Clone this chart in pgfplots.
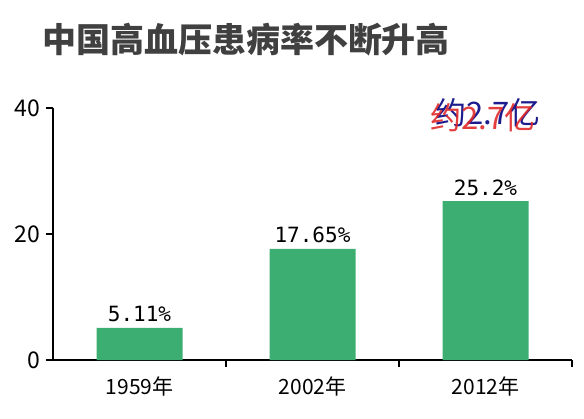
\documentclass[border=0pt]{standalone}
\usepackage{pgfplots}
\pgfplotsset{compat=1.18}
\usepackage{fontspec}
\setmainfont{Noto Sans CJK SC}
\newfontfamily\monofont{DejaVu Sans Mono}
\definecolor{bargreen}{HTML}{3DAE72}
\definecolor{annblue}{HTML}{1C1C8E}
\definecolor{annred}{HTML}{E02828}
\begin{document}
\begin{tikzpicture}[x=1pt,y=1pt]
\path[use as bounding box] (0,0) rectangle (584,418);
\node[font=\fontsize{34}{36}\selectfont\bfseries, text=black!75] at (246,378) {中国高血压患病率不断升高};
\begin{axis}[
  at={(53pt,58pt)}, anchor=south west, scale only axis,
  width=519pt, height=252pt,
  xmin=0, xmax=3, ymin=0, ymax=40,
  axis lines*=left,
  axis line style={line width=1.3pt, -},
  /pgf/number format/assume math mode=true,
  ytick={0,20,40},
  xtick={0.5,1.5,2.5},
  xticklabels={1959年,2002年,2012年},
  minor xtick={1,2,3},
  tick align=outside,
  major tick length=7pt,
  minor tick length=7pt,
  major x tick style={draw=none},
  minor x tick style={line width=1.3pt, black},
  ytick style={line width=1.3pt, black},
  yticklabel style={font=\fontsize{23}{24}\selectfont, xshift=-2pt},
  xticklabel style={font=\fontsize{21}{22}\selectfont, yshift=-6pt},
  clip=false,
]
\addplot[ybar, bar width=86pt, fill=bargreen, draw=none,
  nodes near coords, point meta=explicit symbolic,
  nodes near coords style={font=\monofont\fontsize{21}{22}\selectfont, anchor=south, yshift=2pt, text=black}]
  coordinates {(0.5,5.11)[5.11\%] (1.5,17.65)[17.65\%] (2.5,25.2)[25.2\%]};
\end{axis}
\node[font=\fontsize{31}{34}\selectfont, text=annblue] at (488,305) {约2.7亿};
\node[font=\fontsize{31}{34}\selectfont, text=annred, opacity=0.9] at (483,300) {约2.7亿};
\end{tikzpicture}
\end{document}
